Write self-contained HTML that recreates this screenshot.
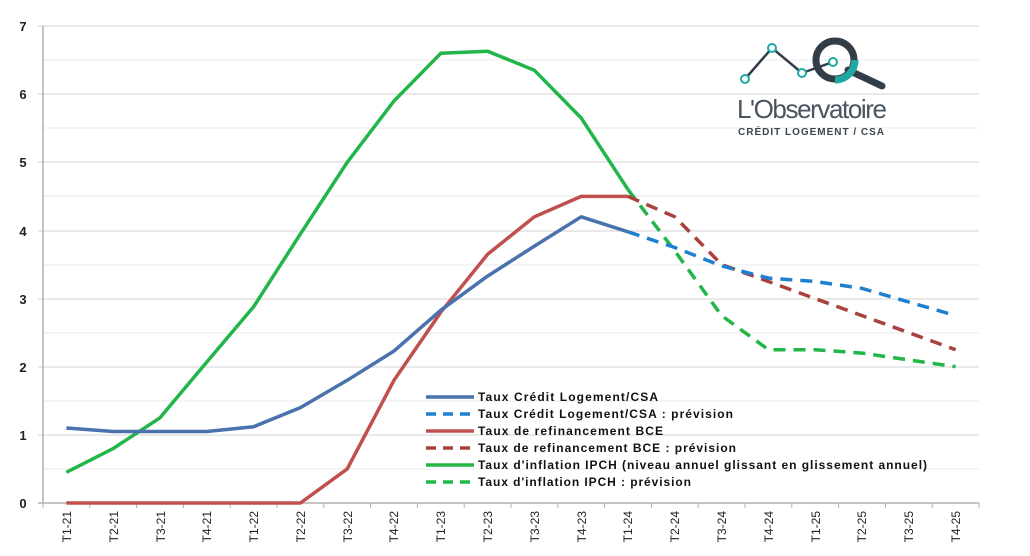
<!DOCTYPE html>
<html><head><meta charset="utf-8"><style>
body{margin:0;background:#fff;}
svg{display:block;font-family:"Liberation Sans",Arial,sans-serif;}
</style></head><body>
<svg width="1030" height="556" viewBox="0 0 1030 556" xmlns="http://www.w3.org/2000/svg">
<g stroke="#f2f2f2" stroke-width="1.5">
<line x1="43" x2="979" y1="469" y2="469"/><line x1="43" x2="979" y1="401" y2="401"/><line x1="43" x2="979" y1="333" y2="333"/><line x1="43" x2="979" y1="265" y2="265"/><line x1="43" x2="979" y1="196" y2="196"/><line x1="43" x2="979" y1="128" y2="128"/><line x1="43" x2="979" y1="60" y2="60"/>
</g>
<g stroke="#e2e2e2" stroke-width="1.5">
<line x1="38" x2="979" y1="435" y2="435"/><line x1="38" x2="979" y1="367" y2="367"/><line x1="38" x2="979" y1="299" y2="299"/><line x1="38" x2="979" y1="231" y2="231"/><line x1="38" x2="979" y1="162" y2="162"/><line x1="38" x2="979" y1="94" y2="94"/><line x1="38" x2="979" y1="26" y2="26"/>
</g>
<line x1="43" x2="43" y1="26" y2="503" stroke="#b0b0b0" stroke-width="1.5"/>
<line x1="38" x2="979" y1="503" y2="503" stroke="#b0b0b0" stroke-width="1.5"/>
<g stroke="#b0b0b0" stroke-width="1">
<line x1="43" x2="43" y1="503" y2="508"/><line x1="89.8" x2="89.8" y1="503" y2="508"/><line x1="136.6" x2="136.6" y1="503" y2="508"/><line x1="183.4" x2="183.4" y1="503" y2="508"/><line x1="230.2" x2="230.2" y1="503" y2="508"/><line x1="277" x2="277" y1="503" y2="508"/><line x1="323.8" x2="323.8" y1="503" y2="508"/><line x1="370.6" x2="370.6" y1="503" y2="508"/><line x1="417.4" x2="417.4" y1="503" y2="508"/><line x1="464.2" x2="464.2" y1="503" y2="508"/><line x1="511" x2="511" y1="503" y2="508"/><line x1="557.8" x2="557.8" y1="503" y2="508"/><line x1="604.6" x2="604.6" y1="503" y2="508"/><line x1="651.4" x2="651.4" y1="503" y2="508"/><line x1="698.2" x2="698.2" y1="503" y2="508"/><line x1="745" x2="745" y1="503" y2="508"/><line x1="791.8" x2="791.8" y1="503" y2="508"/><line x1="838.6" x2="838.6" y1="503" y2="508"/><line x1="885.4" x2="885.4" y1="503" y2="508"/><line x1="932.2" x2="932.2" y1="503" y2="508"/><line x1="979" x2="979" y1="503" y2="508"/>
</g>
<g font-size="13" font-weight="bold" fill="#222" text-anchor="middle">
<text x="23" y="508">0</text><text x="23" y="440">1</text><text x="23" y="372">2</text><text x="23" y="304">3</text><text x="23" y="236">4</text><text x="23" y="167">5</text><text x="23" y="99">6</text><text x="23" y="31">7</text>
</g>
<g font-size="12" fill="#222" text-anchor="end">
<text transform="translate(71,511) rotate(-90)">T1-21</text><text transform="translate(118,511) rotate(-90)">T2-21</text><text transform="translate(165,511) rotate(-90)">T3-21</text><text transform="translate(211,511) rotate(-90)">T4-21</text><text transform="translate(258,511) rotate(-90)">T1-22</text><text transform="translate(305,511) rotate(-90)">T2-22</text><text transform="translate(352,511) rotate(-90)">T3-22</text><text transform="translate(398,511) rotate(-90)">T4-22</text><text transform="translate(445,511) rotate(-90)">T1-23</text><text transform="translate(492,511) rotate(-90)">T2-23</text><text transform="translate(539,511) rotate(-90)">T3-23</text><text transform="translate(586,511) rotate(-90)">T4-23</text><text transform="translate(632,511) rotate(-90)">T1-24</text><text transform="translate(679,511) rotate(-90)">T2-24</text><text transform="translate(726,511) rotate(-90)">T3-24</text><text transform="translate(773,511) rotate(-90)">T4-24</text><text transform="translate(820,511) rotate(-90)">T1-25</text><text transform="translate(866,511) rotate(-90)">T2-25</text><text transform="translate(913,511) rotate(-90)">T3-25</text><text transform="translate(960,511) rotate(-90)">T4-25</text>
</g>
<g fill="none" stroke-width="3.5" stroke-linejoin="round">
<polyline stroke="#22b64a" points="66.4,472.3 113.2,448.5 160,417.8 206.8,362 253.6,306.8 300.4,233.9 347.2,162.3 394,101 440.8,53.3 487.6,51.2 534.4,70.3 581.2,118 628,189.6"/>
<polyline stroke="#22b64a" stroke-dasharray="12,8" points="628,189.6 674.8,250.9 721.6,315.6 768.4,349.7 815.2,349.7 862,353.1 908.8,359.9 955.6,366.7"/>
<polyline stroke="#c0504d" points="66.4,503 113.2,503 160,503 206.8,503 253.6,503 300.4,503 347.2,468.9 394,380.3 440.8,312.2 487.6,254.3 534.4,216.8 581.2,196.4 628,196.4"/>
<polyline stroke="#a8423f" stroke-dasharray="12,8" points="628,196.4 674.8,216.8 721.6,264.5 768.4,281.5 815.2,298.6 862,315.6 908.8,332.7 955.6,349.7"/>
<polyline stroke="#4a72ad" points="66.4,428 113.2,431.5 160,431.5 206.8,431.5 253.6,426.7 300.4,407.6 347.2,380.3 394,351 440.8,310.2 487.6,276.1 534.4,246.1 581.2,216.8 628,231.8"/>
<polyline stroke="#1f7fd0" stroke-dasharray="12,8" points="628,231.8 674.8,247.5 721.6,265.9 768.4,278.1 815.2,281.5 862,288.4 908.8,302 955.6,315.6"/>
</g>
<g stroke-width="3.5">
<line x1="426" x2="474" y1="397" y2="397" stroke="#4a72ad"/>
<line x1="426" x2="474" y1="414" y2="414" stroke="#1f7fd0" stroke-dasharray="10,7"/>
<line x1="426" x2="474" y1="431" y2="431" stroke="#c0504d"/>
<line x1="426" x2="474" y1="448" y2="448" stroke="#a8423f" stroke-dasharray="10,7"/>
<line x1="426" x2="474" y1="465" y2="465" stroke="#22b64a"/>
<line x1="426" x2="474" y1="482" y2="482" stroke="#22b64a" stroke-dasharray="10,7"/>
</g>
<g font-size="12" font-weight="bold" fill="#111">
<text x="478" y="401" textLength="180">Taux Crédit Logement/CSA</text>
<text x="478" y="418" textLength="255">Taux Crédit Logement/CSA : prévision</text>
<text x="478" y="435" textLength="185">Taux de refinancement BCE</text>
<text x="478" y="452" textLength="258">Taux de refinancement BCE : prévision</text>
<text x="478" y="469" textLength="449">Taux d'inflation IPCH (niveau annuel glissant en glissement annuel)</text>
<text x="478" y="486" textLength="213">Taux d'inflation IPCH : prévision</text>
</g>
<g>
<polyline points="745,79 772,48 802,73 833,62" fill="none" stroke="#333d47" stroke-width="2.5"/>
<line x1="848" y1="70" x2="882" y2="86" stroke="#333d47" stroke-width="7" stroke-linecap="round"/>
<circle cx="835" cy="60" r="19" fill="none" stroke="#333d47" stroke-width="7"/>
<path d="M 855 60 A 20 20 0 0 1 835 80" fill="none" stroke="#1fa8a4" stroke-width="7"/>
<g fill="#fff" stroke="#1fa8a4" stroke-width="2"><circle cx="745" cy="79" r="4"/><circle cx="772" cy="48" r="4"/><circle cx="802" cy="73" r="4"/><circle cx="833" cy="62" r="4"/></g>
<text x="737" y="118" font-size="26" fill="#4a545e" letter-spacing="-1" textLength="149">L'Observatoire</text>
<text x="738" y="135" font-size="10" font-weight="bold" fill="#3a4550" textLength="146">CRÉDIT LOGEMENT / CSA</text>
</g>
</svg>
</body></html>
